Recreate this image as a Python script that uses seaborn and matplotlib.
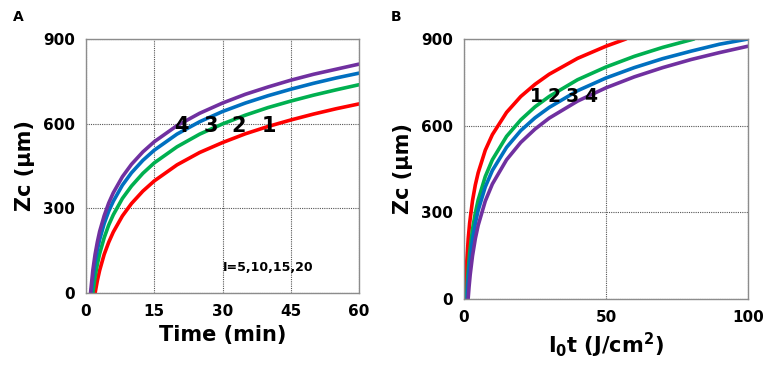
import pandas as pd
import matplotlib
matplotlib.use('Agg')
import matplotlib.pyplot as plt
import seaborn as sns

# --- 資料 ---
# 圖 A: Zc 對時間 (min)，曲線 1-4 對應 I=5,10,15,20
t_1 = [2.0, 2.5, 3, 4, 5, 6, 8, 10, 12.5, 15, 20, 25, 30, 35, 40, 45, 50, 55, 60]
zc_a1 = [0, 44, 80, 137, 180, 216, 273, 317, 361, 397, 454, 498, 533, 564, 590, 613, 634, 653, 670]
t_2 = [1.5, 2, 2.5, 3, 4, 5, 6, 8, 10, 12.5, 15, 20, 25, 30, 35, 40, 45, 50, 55, 60]
zc_a2 = [0, 58, 102, 139, 196, 241, 277, 335, 379, 424, 461, 518, 563, 599, 630, 657, 680, 701, 720, 738]
t_3 = [1.15, 1.5, 2, 2.5, 3, 4, 5, 6, 8, 10, 12.5, 15, 20, 25, 30, 35, 40, 45, 50, 55, 60]
zc_a3 = [0, 52, 109, 153, 189, 246, 290, 325, 382, 426, 470, 506, 563, 607, 643, 673, 699, 722, 743, 762, 779]
t_4 = [1.0, 1.5, 2, 2.5, 3, 4, 5, 6, 8, 10, 12.5, 15, 20, 25, 30, 35, 40, 45, 50, 55, 60]
zc_a4 = [0, 80, 137, 181, 218, 274, 319, 355, 412, 456, 500, 536, 593, 637, 673, 704, 730, 754, 775, 793, 811]

# 圖 B: Zc 對 I0t (J/cm2)
d_1 = [0.5, 1, 1.5, 2, 3, 4, 5, 7.5, 10, 15, 20, 25, 30, 40, 50, 57]
zc_b1 = [0, 132, 209, 263, 340, 395, 437, 515, 569, 646, 701, 743, 778, 833, 875, 900]
d_2 = [0.9, 1.2, 1.5, 2, 3, 4, 5, 7.5, 10, 15, 20, 25, 30, 40, 50, 60, 70, 81]
zc_b2 = [0, 58, 102, 160, 241, 298, 343, 424, 482, 563, 620, 665, 701, 759, 803, 840, 871, 900]
d_3 = [1.07, 1.4, 2, 3, 4, 5, 7.5, 10, 15, 20, 25, 30, 40, 50, 60, 70, 80, 90, 100]
zc_b3 = [0, 54, 125, 205, 262, 307, 388, 445, 525, 583, 627, 663, 721, 765, 801, 832, 858, 882, 900]
d_4 = [1.46, 1.8, 2.2, 3, 4, 5, 7.5, 10, 15, 20, 25, 30, 40, 50, 60, 70, 80, 90, 100]
zc_b4 = [0, 43, 85, 149, 209, 255, 339, 398, 482, 542, 588, 626, 685, 731, 769, 801, 829, 853, 875]

curve_ids = ['1', '2', '3', '4']
curve_colors = ['#ff0000', '#00b050', '#0070c0', '#7030a0']

a_ticks_x = [0, 15, 30, 45, 60]
b_ticks_x = [0, 50, 100]
zc_ticks = [0, 300, 600, 900]


def to_long(xs, ys):
    frames = []
    for cid, x, y in zip(curve_ids, xs, ys):
        frames.append(pd.DataFrame({'x': x, 'zc': y, 'curve': cid}))
    return pd.concat(frames, ignore_index=True)


df_a = to_long([t_1, t_2, t_3, t_4], [zc_a1, zc_a2, zc_a3, zc_a4])
df_b = to_long([d_1, d_2, d_3, d_4], [zc_b1, zc_b2, zc_b3, zc_b4])

sns.set_style('white')
plt.rcParams['font.family'] = ['DejaVu Sans']
plt.rcParams['text.color'] = 'black'
plt.rcParams['axes.labelcolor'] = 'black'
plt.rcParams['xtick.color'] = 'black'
plt.rcParams['ytick.color'] = 'black'
plt.rcParams['mathtext.default'] = 'bf'

fig = plt.figure(figsize=(7.65, 3.70), dpi=100)
ax_a = fig.add_axes([0.1124, 0.2081, 0.3569, 0.6865])
ax_b = fig.add_axes([0.6065, 0.1919, 0.3712, 0.7027])

palette = dict(zip(curve_ids, curve_colors))


def style_axis(ax, xmax, xticks):
    ax.set_xlim(0, xmax)
    ax.set_ylim(0, 900)
    ax.set_xticks(xticks)
    ax.set_yticks(zc_ticks)
    ax.grid(True, color='#555555', linestyle=(0, (1, 1)), linewidth=0.8)
    ax.set_axisbelow(True)
    for sp in ax.spines.values():
        sp.set_color('#8c8c8c')
        sp.set_linewidth(1.0)
    ax.tick_params(length=0, pad=8, labelsize=11)
    for lab in ax.get_xticklabels() + ax.get_yticklabels():
        lab.set_fontweight('bold')
    ax.set_ylabel('Zc (µm)', fontsize=15, fontweight='bold', labelpad=6)


sns.lineplot(data=df_a, x='x', y='zc', hue='curve', palette=palette,
             linewidth=2.6, legend=False, ax=ax_a, sort=False, estimator=None)
style_axis(ax_a, 60, a_ticks_x)
ax_a.set_xlabel('Time (min)', fontsize=15, fontweight='bold', labelpad=4)

sns.lineplot(data=df_b, x='x', y='zc', hue='curve', palette=palette,
             linewidth=2.6, legend=False, ax=ax_b, sort=False, estimator=None)
style_axis(ax_b, 100, b_ticks_x)
ax_b.set_xlabel(r'I$_0$t (J/cm$^2$)', fontsize=15, fontweight='bold', labelpad=4)

# 曲線編號
for lbl, x in zip(['4', '3', '2', '1'], [20.9, 27.4, 33.6, 40.2]):
    ax_a.text(x, 590, lbl, fontsize=15, fontweight='bold', ha='center', va='center')
ax_a.text(40, 92, 'I=5,10,15,20', fontsize=9, fontweight='bold', ha='center', va='center')

for lbl, x in zip(['1', '2', '3', '4'], [25.6, 31.8, 38.3, 44.7]):
    ax_b.text(x, 700, lbl, fontsize=13.5, fontweight='bold', ha='center', va='center')

fig.text(13 / 765, 1 - 17 / 370, 'A', fontsize=10, fontweight='bold', ha='left', va='center')
fig.text(391 / 765, 1 - 17 / 370, 'B', fontsize=10, fontweight='bold', ha='left', va='center')

fig.savefig('out.png', dpi=100)
